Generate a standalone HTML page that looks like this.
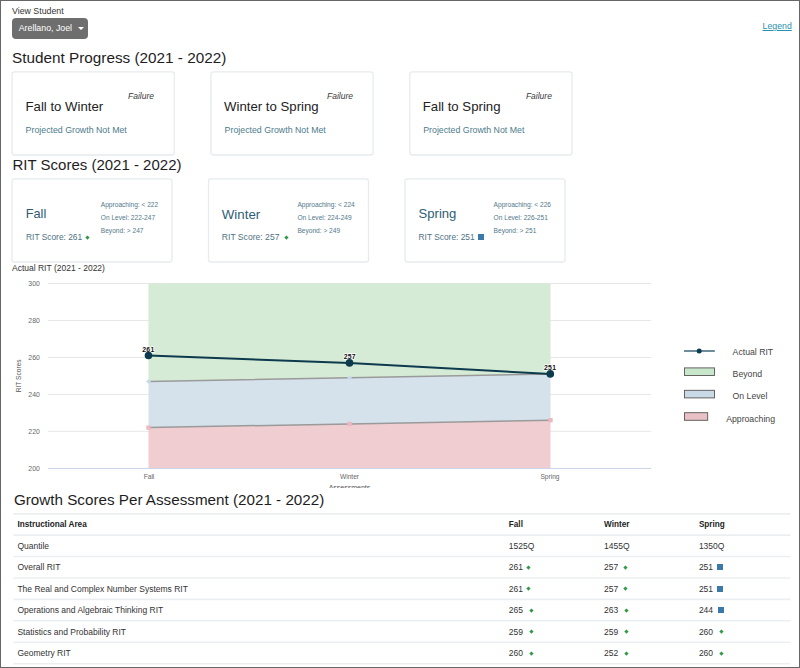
<!DOCTYPE html>
<html><head><meta charset="utf-8">
<style>
*{margin:0;padding:0;box-sizing:border-box}
html,body{width:800px;height:668px;overflow:hidden;background:#fff}
body{position:relative;font-family:"Liberation Sans",sans-serif;color:#222}
.t{position:absolute;line-height:1;white-space:nowrap}
.frame{position:absolute;left:0;top:0;width:800px;height:668px;border:1px solid #666;z-index:10;pointer-events:none}
.btn{position:absolute;left:11.6px;top:18.4px;width:76.4px;height:20.6px;background:#6e6e6e;border-radius:4px}
.caret{position:absolute;left:77.8px;top:27px;width:0;height:0;border-left:3px solid transparent;border-right:3px solid transparent;border-top:3.2px solid #fff}
.h1{font-size:15.3px;color:#1e1e1e}
.pt{font-size:13.2px;color:#222}
.fail{font-size:8.5px;font-style:italic;color:#3a3a3a}
.pg{font-size:8.8px;color:#4d7b8c}
.rt{font-size:13px;color:#2e5d75}
.rs{font-size:8.4px;color:#4f7383}
.rl{font-size:6.6px;color:#52788a}
.dia{position:absolute;width:2.9px;height:2.9px;background:#2e9a45;transform:rotate(45deg)}
.sq{position:absolute;width:6px;height:6px;background:#3b79a8}
.th{font-size:8.2px;font-weight:bold;color:#222}
.td{font-size:8.5px;color:#333}
</style></head><body>
<div class="frame"></div>
<svg style="position:absolute;left:0;top:0" width="800" height="668">
<g fill="none" stroke="#e6ecee" stroke-width="1.3">
<rect x="12.1" y="71.8" width="162.2" height="83.2" rx="2.5"/>
<rect x="210.9" y="71.8" width="162.2" height="83.2" rx="2.5"/>
<rect x="409.8" y="71.8" width="162.2" height="83.2" rx="2.5"/>
<rect x="12" y="178.9" width="160" height="83.1" rx="2.5"/>
<rect x="208.5" y="178.9" width="160" height="83.1" rx="2.5"/>
<rect x="405" y="178.9" width="160" height="83.1" rx="2.5"/>
</g>
<g stroke="#ebeff1" stroke-width="1.6">
<line x1="13.5" x2="790.5" y1="513.9" y2="513.9"/>
<line x1="13.5" x2="790.5" y1="535.1" y2="535.1"/>
<line x1="13.5" x2="790.5" y1="556.5" y2="556.5"/>
<line x1="13.5" x2="790.5" y1="578.0" y2="578.0"/>
<line x1="13.5" x2="790.5" y1="599.4" y2="599.4"/>
<line x1="13.5" x2="790.5" y1="620.8" y2="620.8"/>
<line x1="13.5" x2="790.5" y1="642.3" y2="642.3"/>
<line x1="13.5" x2="790.5" y1="663.7" y2="663.7"/>
</g>
</svg>

<div class="t" style="left:12px;top:7.1px;font-size:8.8px;color:#333">View Student</div>
<div class="btn"></div>
<div class="t" style="left:18.75px;top:23.6px;font-size:8.8px;color:#fff">Arellano, Joel</div>
<div class="caret"></div>
<div class="t" style="left:762.6px;top:22.2px;font-size:8.75px;color:#2a91ac;text-decoration:underline">Legend</div>

<div class="t h1" style="left:12px;top:50px">Student Progress (2021 - 2022)</div>


<div class="t pt" style="left:25.5px;top:99.9px">Fall to Winter</div>
<div class="t pt" style="left:224.1px;top:99.9px">Winter to Spring</div>
<div class="t pt" style="left:422.8px;top:99.9px">Fall to Spring</div>
<div class="t fail" style="left:128px;top:91.8px">Failure</div>
<div class="t fail" style="left:327px;top:91.8px">Failure</div>
<div class="t fail" style="left:525.9px;top:91.8px">Failure</div>
<div class="t pg" style="left:25.6px;top:126.2px">Projected Growth Not Met</div>
<div class="t pg" style="left:224.6px;top:126.2px">Projected Growth Not Met</div>
<div class="t pg" style="left:423.2px;top:126.2px">Projected Growth Not Met</div>

<div class="t h1" style="left:12.5px;top:157.3px;font-size:15px">RIT Scores (2021 - 2022)</div>


<div class="t rt" style="left:25.7px;top:207.6px;font-size:12.8px">Fall</div>
<div class="t rs" style="left:26px;top:233.3px">RIT Score: 261</div>
<div class="dia" style="left:86.15px;top:235.55px"></div>
<div class="t rl" style="left:100.8px;top:201.9px">Approaching: &lt; 222</div>
<div class="t rl" style="left:100.8px;top:215.2px">On Level: 222-247</div>
<div class="t rl" style="left:100.8px;top:228.4px">Beyond: &gt; 247</div>

<div class="t rt" style="left:221.8px;top:207.8px;font-size:13.3px">Winter</div>
<div class="t rs" style="left:221.8px;top:233.2px;font-size:8.6px">RIT Score: 257</div>
<div class="dia" style="left:284.8px;top:235.65px"></div>
<div class="t rl" style="left:297.4px;top:201.9px">Approaching: &lt; 224</div>
<div class="t rl" style="left:297.4px;top:215.2px">On Level: 224-249</div>
<div class="t rl" style="left:297.4px;top:228.4px">Beyond: &gt; 249</div>

<div class="t rt" style="left:418.5px;top:207.4px;font-size:13.1px">Spring</div>
<div class="t rs" style="left:418.5px;top:233.3px">RIT Score: 251</div>
<div class="sq" style="left:477.7px;top:234px"></div>
<div class="t rl" style="left:493.6px;top:201.9px">Approaching: &lt; 226</div>
<div class="t rl" style="left:493.6px;top:215.2px">On Level: 226-251</div>
<div class="t rl" style="left:493.6px;top:228.4px">Beyond: &gt; 251</div>

<div class="t" style="left:12px;top:263.8px;font-size:8.5px;color:#333">Actual RIT (2021 - 2022)</div>

<!-- CHART -->
<svg style="position:absolute;left:0;top:0" width="800" height="488" viewBox="0 0 800 488" font-family="Liberation Sans, sans-serif">
  <g stroke="#e6e6e6" stroke-width="1">
    <line x1="48" x2="651" y1="283.5" y2="283.5"/>
    <line x1="48" x2="651" y1="320.5" y2="320.5"/>
    <line x1="48" x2="651" y1="357.5" y2="357.5"/>
    <line x1="48" x2="651" y1="394.4" y2="394.4"/>
    <line x1="48" x2="651" y1="431.3" y2="431.3"/>
  </g>
  <!-- fills -->
  <polygon fill="#d5ebd6" points="148.5,283.5 550.5,283.5 550.5,374.0 349.5,377.7 148.5,381.4"/>
  <polygon fill="#d5e2ec" points="148.5,381.4 349.5,377.7 550.5,374.0 550.5,420.2 349.5,423.9 148.5,427.6"/>
  <polygon fill="#efcdd1" points="148.5,427.6 349.5,423.9 550.5,420.2 550.5,468.2 148.5,468.2"/>
  <line x1="48" x2="651" y1="468.5" y2="468.5" stroke="#ccd6eb" stroke-width="1"/>
  <!-- boundary lines -->
  <polyline fill="none" stroke="#9a9a9a" stroke-width="1.5" points="148.5,381.4 349.5,377.7 550.5,374.0"/>
  <polyline fill="none" stroke="#9a9a9a" stroke-width="1.5" points="148.5,427.6 349.5,423.9 550.5,420.2"/>
  <!-- small markers -->
  <g fill="#c9d9e8">
    <path d="M148.5 379 L151 381.4 L148.5 383.8 L146 381.4Z"/>
    <path d="M349.5 375.3 L352 377.7 L349.5 380.1 L347 377.7Z"/>
  </g>
  <g fill="#ebb9bf">
    <rect x="146.3" y="425.4" width="4.4" height="4.4"/>
    <rect x="347.3" y="421.7" width="4.4" height="4.4"/>
    <rect x="548.3" y="418" width="4.4" height="4.4"/>
  </g>
  <!-- actual line -->
  <polyline fill="none" stroke="#0e3a4e" stroke-width="2" points="148.5,355.5 349.5,362.9 550.5,374.0"/>
  <g font-size="6.8" font-weight="bold" fill="#111" text-anchor="middle" letter-spacing="0.3" stroke="#fff" stroke-width="1.5" paint-order="stroke" stroke-linejoin="round">
    <text x="148.4" y="351.8">261</text>
    <text x="349.8" y="358.6">257</text>
    <text x="550.1" y="369.8">251</text>
  </g>
  <g fill="#0e3a4e">
    <circle cx="148.5" cy="355.5" r="3.8"/>
    <circle cx="349.5" cy="362.9" r="3.8"/>
    <circle cx="550.3" cy="373.9" r="3.8"/>
  </g>
  <!-- y labels -->
  <g font-size="6.9" fill="#666" text-anchor="end">
    <text x="39.8" y="285.9">300</text>
    <text x="39.8" y="322.9">280</text>
    <text x="39.8" y="359.9">260</text>
    <text x="39.8" y="396.8">240</text>
    <text x="39.8" y="433.7">220</text>
    <text x="39.8" y="470.6">200</text>
  </g>
  <text font-size="6.6" fill="#555" text-anchor="middle" transform="translate(21,375.8) rotate(-90)">RIT Scores</text>
  <g font-size="6.6" fill="#666" text-anchor="middle">
    <text x="149" y="478.8">Fall</text>
    <text x="349.5" y="478.8">Winter</text>
    <text x="550" y="478.8">Spring</text>
  </g>
  <text x="349.5" y="489.6" font-size="7" fill="#555" text-anchor="middle">Assessments</text>
  <!-- legend -->
  <line x1="684" x2="714.8" y1="351" y2="351" stroke="#4a6f80" stroke-width="1.6"/>
  <circle cx="699.2" cy="351" r="2.5" fill="#0d3b50"/>
  <rect x="684.5" y="367.9" width="30" height="7.6" fill="#c8e6c9" stroke="#555" stroke-width="0.9"/>
  <rect x="684.5" y="390.3" width="30" height="7.6" fill="#c9d9e6" stroke="#555" stroke-width="0.9"/>
  <rect x="684.5" y="412.7" width="23.2" height="7.6" fill="#e9c0c5" stroke="#555" stroke-width="0.9"/>
  <g font-size="8.7" fill="#444">
    <text x="732.6" y="354.5">Actual RIT</text>
    <text x="732.6" y="376.9">Beyond</text>
    <text x="732.6" y="399.3">On Level</text>
    <text x="726.2" y="421.8">Approaching</text>
  </g>
</svg>

<div class="t h1" style="left:13.9px;top:492.4px;font-size:15.22px">Growth Scores Per Assessment (2021 - 2022)</div>


<div class="t th" style="left:17.4px;top:521.1px">Instructional Area</div>
<div class="t th" style="left:508.8px;top:521.1px">Fall</div>
<div class="t th" style="left:604px;top:521.1px">Winter</div>
<div class="t th" style="left:698.9px;top:521.1px">Spring</div>

<div class="t td" style="left:17.4px;top:541.8px">Quantile</div>
<div class="t td" style="left:508.8px;top:541.8px">1525Q</div>
<div class="t td" style="left:604px;top:541.8px">1455Q</div>
<div class="t td" style="left:698.9px;top:541.8px">1350Q</div>

<div class="t td" style="left:17.4px;top:563.3px">Overall RIT</div>
<div class="t td" style="left:508.8px;top:563.3px">261</div>
<div class="t td" style="left:604px;top:563.3px">257</div>
<div class="t td" style="left:698.9px;top:563.3px">251</div>

<div class="t td" style="left:17.4px;top:584.7px">The Real and Complex Number Systems RIT</div>
<div class="t td" style="left:508.8px;top:584.7px">261</div>
<div class="t td" style="left:604px;top:584.7px">257</div>
<div class="t td" style="left:698.9px;top:584.7px">251</div>

<div class="t td" style="left:17.4px;top:606.2px">Operations and Algebraic Thinking RIT</div>
<div class="t td" style="left:508.8px;top:606.2px">265</div>
<div class="t td" style="left:604px;top:606.2px">263</div>
<div class="t td" style="left:698.9px;top:606.2px">244</div>

<div class="t td" style="left:17.4px;top:627.7px">Statistics and Probability RIT</div>
<div class="t td" style="left:508.8px;top:627.7px">259</div>
<div class="t td" style="left:604px;top:627.7px">259</div>
<div class="t td" style="left:698.9px;top:627.7px">260</div>

<div class="t td" style="left:17.4px;top:649.1px">Geometry RIT</div>
<div class="t td" style="left:508.8px;top:649.1px">260</div>
<div class="t td" style="left:604px;top:649.1px">252</div>
<div class="t td" style="left:698.9px;top:649.1px">260</div>

<!-- table icons -->
<div class="dia" style="left:527.35px;top:565.95px"></div>
<div class="dia" style="left:624.15px;top:565.95px"></div>
<div class="sq" style="left:716.5px;top:564.3px"></div>
<div class="dia" style="left:527.35px;top:587.35px"></div>
<div class="dia" style="left:624.15px;top:587.35px"></div>
<div class="sq" style="left:716.5px;top:585.7px"></div>
<div class="dia" style="left:529.55px;top:608.75px"></div>
<div class="dia" style="left:624.95px;top:608.75px"></div>
<div class="sq" style="left:718.1px;top:607.0px"></div>
<div class="dia" style="left:529.55px;top:630.15px"></div>
<div class="dia" style="left:625.15px;top:630.15px"></div>
<div class="dia" style="left:720.35px;top:630.15px"></div>
<div class="dia" style="left:529.55px;top:651.55px"></div>
<div class="dia" style="left:624.95px;top:651.55px"></div>
<div class="dia" style="left:720.35px;top:651.55px"></div>

</body></html>
